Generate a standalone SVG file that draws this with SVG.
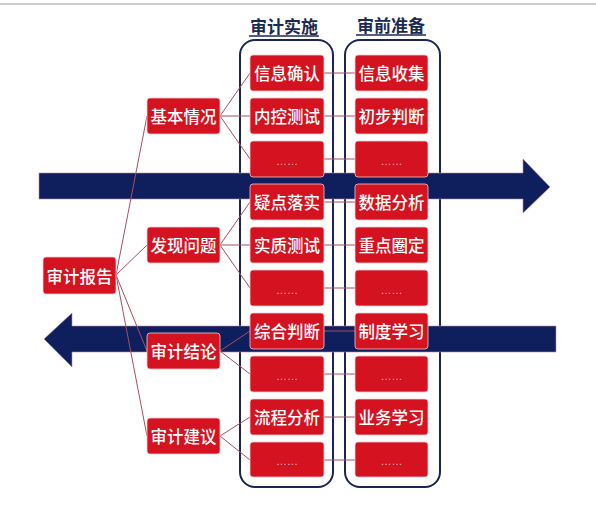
<svg xmlns="http://www.w3.org/2000/svg" width="596" height="508" viewBox="0 0 596 508">
<style>
.box{fill:#d5121f;stroke:#f3c9cf;stroke-width:0.8}
.t{font-family:"Noto Sans CJK SC","Noto Sans",sans-serif;font-size:16.5px;font-weight:500;fill:#fff;text-anchor:middle;dominant-baseline:central}
.d{font-family:"Liberation Sans",sans-serif;font-size:11px;fill:#f2b8bf;text-anchor:middle;dominant-baseline:central}
.h{font-family:"Noto Sans CJK SC","Noto Sans",sans-serif;font-size:17px;font-weight:bold;fill:#1b2a52;text-anchor:middle}
.c{stroke:#a5505e;stroke-width:1;fill:none}
.arr{fill:#0f1e5c;stroke:#b88aa0;stroke-width:0.6}
.cont{fill:none;stroke:#1b2550;stroke-width:2}
</style>
<rect width="596" height="508" fill="#fff"/>
<line x1="0" y1="4" x2="596" y2="4" stroke="#9a9a9a" stroke-width="1.2"/>
<g id="headers">
<text class="h" x="284" y="33">审计实施</text>
<line x1="249" y1="36" x2="319" y2="36" stroke="#1b2a52" stroke-width="1.5"/>
<text class="h" x="391" y="32">审前准备</text>
<line x1="356" y1="35" x2="426" y2="35" stroke="#1b2a52" stroke-width="1.5"/>
</g>
<g id="containers">
<rect class="cont" x="240" y="40" width="93" height="447" rx="15"/>
<rect class="cont" x="345" y="40" width="95" height="447" rx="15"/>
</g>
<g id="arrows">
<polygon class="arr" points="39,173 523,173 523,159 550,187 523,213 523,199 39,199"/>
<polygon class="arr" points="556,326 72,326 72,313 44,339 72,367 72,352 556,352"/>
</g>
<g id="connectors">
<line class="c" x1="116" y1="275" x2="147" y2="116"/>
<line class="c" x1="116" y1="275" x2="147" y2="245"/>
<line class="c" x1="116" y1="275" x2="147" y2="351"/>
<line class="c" x1="116" y1="275" x2="147" y2="436"/>
<line class="c" x1="220" y1="116" x2="250" y2="73"/>
<line class="c" x1="220" y1="116" x2="250" y2="116"/>
<line class="c" x1="220" y1="116" x2="250" y2="159"/>
<line class="c" x1="220" y1="245" x2="250" y2="202"/>
<line class="c" x1="220" y1="245" x2="250" y2="245"/>
<line class="c" x1="220" y1="245" x2="250" y2="288"/>
<line class="c" x1="220" y1="351" x2="250" y2="331"/>
<line class="c" x1="220" y1="351" x2="250" y2="374"/>
<line class="c" x1="220" y1="436" x2="250" y2="417"/>
<line class="c" x1="220" y1="436" x2="250" y2="460"/>
<line class="c" x1="324" y1="73" x2="355" y2="73"/>
<line class="c" x1="324" y1="116" x2="355" y2="116"/>
<line class="c" x1="324" y1="159" x2="355" y2="159"/>
<line class="c" x1="324" y1="202" x2="355" y2="202"/>
<line class="c" x1="324" y1="245" x2="355" y2="245"/>
<line class="c" x1="324" y1="288" x2="355" y2="288"/>
<line class="c" x1="324" y1="331" x2="355" y2="331"/>
<line class="c" x1="324" y1="374" x2="355" y2="374"/>
<line class="c" x1="324" y1="417" x2="355" y2="417"/>
<line class="c" x1="324" y1="460" x2="355" y2="460"/>
</g>
<g id="n-report"><rect class="box" x="43" y="257" width="73" height="37" rx="3"/><text class="t" x="79.5" y="275.5">审计报告</text></g>
<g id="n-basic"><rect class="box" x="147" y="98" width="73" height="36" rx="3"/><text class="t" x="183.5" y="116">基本情况</text></g>
<g id="n-issue"><rect class="box" x="147" y="227" width="73" height="36" rx="3"/><text class="t" x="183.5" y="245">发现问题</text></g>
<g id="n-concl"><rect class="box" x="147" y="333" width="73" height="36" rx="3"/><text class="t" x="183.5" y="351">审计结论</text></g>
<g id="n-sugg"><rect class="box" x="147" y="418" width="73" height="36" rx="3"/><text class="t" x="183.5" y="436">审计建议</text></g>
<g id="a1"><rect class="box" x="250" y="55" width="74" height="36" rx="3"/><text class="t" x="287" y="73">信息确认</text></g>
<g id="a2"><rect class="box" x="250" y="98" width="74" height="36" rx="3"/><text class="t" x="287" y="116">内控测试</text></g>
<g id="a3"><rect class="box" x="250" y="141" width="74" height="36" rx="3"/><text class="d" x="287" y="161">……</text></g>
<g id="a4"><rect class="box" x="250" y="184" width="74" height="36" rx="3"/><text class="t" x="287" y="202">疑点落实</text></g>
<g id="a5"><rect class="box" x="250" y="227" width="74" height="36" rx="3"/><text class="t" x="287" y="245">实质测试</text></g>
<g id="a6"><rect class="box" x="250" y="270" width="74" height="36" rx="3"/><text class="d" x="287" y="290">……</text></g>
<g id="a7"><rect class="box" x="250" y="313" width="74" height="36" rx="3"/><text class="t" x="287" y="331">综合判断</text></g>
<g id="a8"><rect class="box" x="250" y="356" width="74" height="36" rx="3"/><text class="d" x="287" y="376">……</text></g>
<g id="a9"><rect class="box" x="250" y="399" width="74" height="36" rx="3"/><text class="t" x="287" y="417">流程分析</text></g>
<g id="a10"><rect class="box" x="250" y="442" width="74" height="35" rx="3"/><text class="d" x="287" y="461">……</text></g>
<g id="b1"><rect class="box" x="355" y="55" width="73" height="36" rx="3"/><text class="t" x="391.5" y="73">信息收集</text></g>
<g id="b2"><rect class="box" x="355" y="98" width="73" height="36" rx="3"/><text class="t" x="391.5" y="116">初步判断</text></g>
<g id="b3"><rect class="box" x="355" y="141" width="73" height="36" rx="3"/><text class="d" x="391.5" y="161">……</text></g>
<g id="b4"><rect class="box" x="355" y="184" width="73" height="36" rx="3"/><text class="t" x="391.5" y="202">数据分析</text></g>
<g id="b5"><rect class="box" x="355" y="227" width="73" height="36" rx="3"/><text class="t" x="391.5" y="245">重点圈定</text></g>
<g id="b6"><rect class="box" x="355" y="270" width="73" height="36" rx="3"/><text class="d" x="391.5" y="290">……</text></g>
<g id="b7"><rect class="box" x="355" y="313" width="73" height="36" rx="3"/><text class="t" x="391.5" y="331">制度学习</text></g>
<g id="b8"><rect class="box" x="355" y="356" width="73" height="36" rx="3"/><text class="d" x="391.5" y="376">……</text></g>
<g id="b9"><rect class="box" x="355" y="399" width="73" height="36" rx="3"/><text class="t" x="391.5" y="417">业务学习</text></g>
<g id="b10"><rect class="box" x="355" y="442" width="73" height="35" rx="3"/><text class="d" x="391.5" y="461">……</text></g>
</svg>
